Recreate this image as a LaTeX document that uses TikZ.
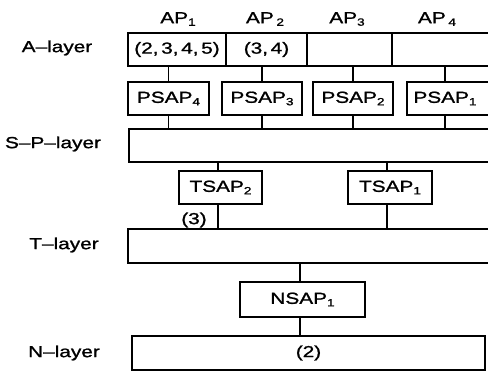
\documentclass[tikz,border=0pt]{standalone}
\usepackage{fontspec}
\setmainfont{Liberation Sans}[FakeStretch=1.3, FakeBold=1.2]
\usepackage{tikz}
\usetikzlibrary{positioning}
\newcommand{\lowIdx}[1]{\raisebox{-2.5pt}{\fontsize{10.5}{10.5}\selectfont #1}}
\tikzset{
	layerBox/.style={draw, line width=1.4pt, inner sep=0pt, outer sep=0pt, minimum height=33pt},
	sapBox/.style={layerBox, minimum height=33pt},
	layerName/.style={inner sep=0pt, font=\fontsize{16}{18}\selectfont},
	link/.style={line width=1.4pt}
}

\begin{document}
\begin{tikzpicture}[x=1pt, y=-1pt, font=\fontsize{16}{18}\selectfont]
	\useasboundingbox (0,0) rectangle (488,371);
	\begin{scope}
		\clip (0,0) rectangle (488,371);
			% A-layer
			\node[layerBox, minimum width=98pt] (cell1) at (177,49.5) {(2,\,3,\,4,\,5)};
			\node[layerBox, minimum width=81pt] (cell2) at (266.5,49.5) {(3,\,4)\hspace{14pt}};
			\node[layerBox, minimum width=85pt] (cell3) at (349.5,49.5) {};
			\node[layerBox, minimum width=108pt] (cell4) at (446,49.5) {};
			\node (ap1) at (178,19) {AP\lowIdx{1}};
			\node (ap2) at (265,19) {AP\,\lowIdx{2}};
			\node (ap3) at (347,19) {AP\lowIdx{3}};
			\node (ap4) at (437,19) {AP\,\lowIdx{4}};
			% PSAPs
			\node[sapBox, minimum width=81pt] (psap4) at (168.5,98.5) {PSAP\lowIdx{4}};
			\node[sapBox, minimum width=80pt] (psap3) at (262,98.5) {PSAP\lowIdx{3}};
			\node[sapBox, minimum width=80pt] (psap2) at (353,98.5) {PSAP\lowIdx{2}};
			\node[sapBox, minimum width=93pt] (psap1) at (453.5,98.5) {\hspace{-17pt}PSAP\lowIdx{1}};
			\node[layerBox, minimum width=371pt] (sp) at (314.5,145.5) {};
			% TSAPs
			\node[sapBox, minimum width=83pt] (tsap2) at (220.5,187.5) {TSAP\lowIdx{2}};
			\node[sapBox, minimum width=84pt] (tsap1) at (390,187.5) {TSAP\lowIdx{1}};
			\node[layerBox, minimum width=372pt, minimum height=34pt] (tl) at (314,246) {};
			\node (three) at (194,220) {(3)};
			% NSAP and N-layer
			\node[sapBox, minimum width=125pt, minimum height=35pt] (nsap) at (302.5,299.5) {NSAP\lowIdx{1}};
			\node[layerBox, minimum width=353pt, minimum height=34pt] (nl) at (308.5,353) {(2)\hspace{16pt}};
			% links
			\draw[link] (psap4.north) -- (psap4.north |- cell1.south);
			\draw[link] (psap3.north) -- (psap3.north |- cell2.south);
			\draw[link] (psap2.north) -- (psap2.north |- cell3.south);
			\draw[link] ([xshift=-8.5pt]psap1.north) -- ([xshift=-8.5pt]psap1.north |- cell4.south);
			\draw[link] (psap4.south) -- (psap4.south |- sp.north);
			\draw[link] (psap3.south) -- (psap3.south |- sp.north);
			\draw[link] (psap2.south) -- (psap2.south |- sp.north);
			\draw[link] ([xshift=-8.5pt]psap1.south) -- ([xshift=-8.5pt]psap1.south |- sp.north);
			\draw[link] ([xshift=-2.5pt]tsap2.north) -- ([xshift=-2.5pt]tsap2.north |- sp.south);
			\draw[link] ([xshift=-3pt]tsap1.north) -- ([xshift=-3pt]tsap1.north |- sp.south);
			\draw[link] ([xshift=-2.5pt]tsap2.south) -- ([xshift=-2.5pt]tsap2.south |- tl.north);
			\draw[link] ([xshift=-3pt]tsap1.south) -- ([xshift=-3pt]tsap1.south |- tl.north);
			\draw[link] ([xshift=-2.5pt]nsap.north) -- ([xshift=-2.5pt]nsap.north |- tl.south);
			\draw[link] ([xshift=-2.5pt]nsap.south) -- ([xshift=-2.5pt]nsap.south |- nl.north);
	\end{scope}
	% layer names
	\node[layerName] (aName) at (57,48) {A--layer};
	\node[layerName] (spName) at (53,144) {S--P--layer};
	\node[layerName] (tName) at (64,245) {T--layer};
	\node[layerName] (nName) at (64,353) {N--layer};
\end{tikzpicture}
\end{document}
